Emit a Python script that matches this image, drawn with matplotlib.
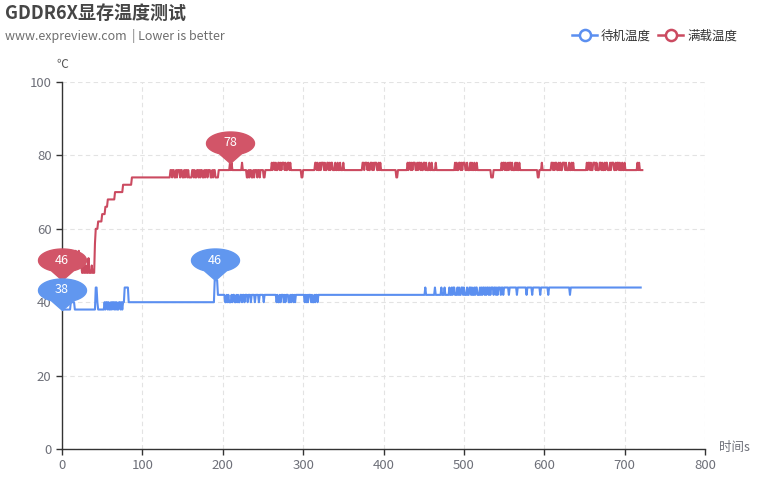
import numpy as np
import matplotlib
matplotlib.use("Agg")
import matplotlib.pyplot as plt
from matplotlib.path import Path
from matplotlib.lines import Line2D

plt.rcParams['font.family'] = ['Noto Sans CJK SC', 'DejaVu Sans']

title = "GDDR6X显存温度测试"
subtitle = "www.expreview.com  | Lower is better"
series_names = ["待机温度", "满载温度"]
x_ticks = [0, 100, 200, 300, 400, 500, 600, 700, 800]
y_ticks = [0, 20, 40, 60, 80, 100]

# Idle temperature, run-length encoded (value, seconds), one sample per second
idle_runs = [
    (38, 11), (40, 5), (38, 26), (44, 2), (40, 1), (38, 8),
    (40, 1), (38, 1), (40, 2), (38, 1), (40, 1), (38, 2), (40, 1), (38, 1), (40, 2), (38, 1),
    (40, 1), (38, 1), (40, 1), (38, 2), (40, 2), (38, 1), (40, 1), (38, 1),
    (40, 2), (44, 5), (40, 107), (46, 4), (42, 9),
    (40, 2), (42, 1), (40, 1), (42, 1), (40, 3), (42, 1), (40, 1), (42, 2), (40, 2), (42, 1),
    (40, 1), (42, 1), (40, 2), (42, 2), (40, 1), (42, 2), (40, 1), (42, 3), (40, 1), (42, 3),
    (40, 1), (42, 4), (40, 1), (42, 4), (40, 1), (42, 5), (40, 1), (42, 4),
    (42, 11),
    (40, 1), (42, 1), (40, 2), (42, 1), (40, 1), (42, 3), (40, 1), (42, 1), (40, 1), (42, 3),
    (40, 2), (42, 1), (40, 1), (42, 2), (40, 1), (42, 1), (40, 1), (42, 2),
    (42, 9),
    (40, 1), (42, 1), (40, 1), (42, 1), (40, 1), (42, 3), (40, 1), (42, 1), (40, 2), (42, 1),
    (40, 1), (42, 2), (40, 1),
    (42, 133),
    (44, 1), (42, 11), (44, 1), (42, 7), (44, 1), (42, 3), (44, 1), (42, 5),
    (44, 1), (42, 2), (44, 1), (42, 1), (44, 2), (42, 3), (44, 1), (42, 1), (44, 1), (42, 2),
    (44, 2), (42, 1), (44, 1), (42, 3), (44, 1), (42, 2), (44, 2), (42, 1), (44, 1), (42, 2),
    (44, 1), (42, 1), (44, 2), (42, 3), (44, 1), (42, 1),
    (44, 1), (42, 1), (44, 2), (42, 1), (44, 1), (42, 1), (44, 2), (42, 1), (44, 1), (42, 1),
    (44, 3), (42, 1), (44, 2), (42, 1), (44, 1), (42, 1), (44, 3), (42, 1), (44, 2), (42, 1),
    (44, 2),
    (44, 4), (42, 1), (44, 9), (42, 1), (44, 11), (42, 1), (44, 6), (42, 1), (44, 9), (42, 1),
    (44, 9), (42, 1), (44, 26), (42, 1), (44, 88),
]

# Full-load temperature: first 41 seconds listed directly, then run-length encoded
load_start = [46, 50, 52, 50, 54, 52, 50, 52, 54, 50, 52, 50, 54, 52, 50, 52, 50, 54, 52, 50,
              52, 54, 50, 52, 50, 48, 48, 52, 48, 48, 50, 48, 48, 52, 48, 48, 48, 50, 48, 48, 48]
load_runs = [
    (56, 1), (60, 3), (62, 5), (64, 4), (66, 3), (68, 9), (70, 10), (72, 11), (74, 48),
    (76, 2), (74, 1), (76, 2), (74, 2), (76, 1), (74, 1), (76, 3), (74, 1), (76, 2), (74, 2),
    (76, 1), (74, 1), (76, 2), (74, 1), (76, 1), (74, 4), (76, 2), (74, 1), (76, 1), (74, 2),
    (76, 2), (74, 1), (76, 1), (74, 1), (76, 2), (74, 2), (76, 1), (74, 1), (76, 2), (74, 1),
    (76, 3), (74, 2), (76, 1), (74, 1), (76, 2), (74, 4),
    (76, 14), (78, 1), (76, 1), (78, 1), (76, 12), (78, 1), (76, 5),
    (74, 2), (76, 1), (74, 1), (76, 2), (74, 2), (76, 1), (74, 1), (76, 3), (74, 1), (76, 2),
    (74, 1), (76, 4), (74, 2), (76, 3),
    (76, 5),
    (78, 1), (76, 1), (78, 2), (76, 1), (78, 1), (76, 2), (78, 2), (76, 1), (78, 1), (76, 1),
    (78, 3), (76, 1), (78, 1), (76, 2), (78, 2), (76, 1), (78, 1),
    (76, 13), (74, 2), (76, 15),
    (78, 2), (76, 1), (78, 1), (76, 2), (78, 1), (76, 1), (78, 3), (76, 1), (78, 1), (76, 2),
    (78, 2), (76, 1), (78, 1), (76, 1), (78, 2), (76, 3), (78, 1), (76, 2), (78, 1), (76, 2),
    (78, 1), (76, 3), (78, 1),
    (76, 23),
    (78, 2), (76, 1), (78, 3), (76, 1), (78, 1), (76, 2), (78, 2), (76, 1), (78, 1), (76, 1),
    (78, 3), (76, 2), (78, 1), (76, 1), (78, 1),
    (76, 19), (74, 2), (76, 12),
    (78, 1), (76, 1), (78, 2), (76, 1), (78, 1), (76, 1), (78, 3), (76, 2), (78, 1), (76, 1),
    (78, 2), (76, 1), (78, 1), (76, 2), (78, 2), (76, 1), (78, 1), (76, 3), (78, 1), (76, 2),
    (78, 1), (76, 4), (78, 1), (76, 1),
    (76, 22),
    (78, 1), (76, 1), (78, 1), (76, 2), (78, 2), (76, 1), (78, 1), (76, 1), (78, 3), (76, 2),
    (78, 1), (76, 3), (78, 1), (76, 1), (78, 1), (76, 2), (78, 1), (76, 2), (78, 1),
    (76, 17), (74, 3), (76, 10),
    (78, 1), (76, 1), (78, 2), (76, 1), (78, 1), (76, 2), (78, 1), (76, 1), (78, 2), (76, 1),
    (78, 1), (76, 3), (78, 1), (76, 1), (78, 1), (76, 2), (78, 1), (76, 1),
    (76, 21), (74, 2), (76, 3), (78, 1), (76, 11),
    (78, 2), (76, 1), (78, 1), (76, 1), (78, 2), (76, 2), (78, 1), (76, 1), (78, 1), (76, 2),
    (78, 3), (76, 1), (78, 1), (76, 3), (78, 1), (76, 2), (78, 1), (76, 1), (78, 1),
    (76, 16),
    (78, 1), (76, 1), (78, 2), (76, 1), (78, 1), (76, 2), (78, 3), (76, 1), (78, 1), (76, 3),
    (78, 2), (76, 1), (78, 1), (76, 2), (78, 1), (76, 1), (78, 2), (76, 3), (78, 1), (76, 1),
    (78, 3), (76, 2), (78, 1), (76, 1), (78, 2), (76, 1), (78, 1), (76, 2), (78, 1), (76, 2),
    (78, 1),
    (76, 15), (78, 1), (76, 1), (78, 1), (76, 4),
]

idle = np.repeat([v for v, n in idle_runs], [n for v, n in idle_runs]).astype(float)
load = np.concatenate([np.array(load_start, float),
                       np.repeat([v for v, n in load_runs], [n for v, n in load_runs]).astype(float)])
t_idle = np.arange(len(idle))
t_load = np.arange(len(load))

blue = '#5b8ff0'
red = '#cb4a60'
pin_blue = '#6197ef'
pin_red = '#d25568'

W, H = 765, 480
fig = plt.figure(figsize=(W / 100, H / 100), dpi=100)
ax = fig.add_axes([62 / W, 1 - 449 / H, (705 - 62) / W, (449 - 82) / H])

ax.plot(t_idle, idle, color=blue, lw=1.5, zorder=3)
ax.plot(t_load, load, color=red, lw=1.5, zorder=3)

ax.set_xlim(0, 800)
ax.set_ylim(0, 100)
ax.set_xticks(x_ticks)
ax.set_yticks(y_ticks)
ax.grid(True, color='#e3e3e3', linestyle=(0, (4, 3)), lw=0.8, zorder=0)
for s in ['top', 'right']:
    ax.spines[s].set_visible(False)
for s in ['left', 'bottom']:
    ax.spines[s].set_color('#333333')
    ax.spines[s].set_linewidth(1)
ax.tick_params(axis='both', colors='#333333', labelcolor='#6e7079', labelsize=9.5, length=4, width=1)

# pin markers (max / min)
theta = np.linspace(np.deg2rad(-62), np.deg2rad(242), 60)
a, b, c = 24.0, 11.5, 20.0
ex = a * np.cos(theta)
ey = c + b * np.sin(theta)
verts = [(0, 0)] + list(zip(ex, ey)) + [(0, 0)]
codes = [Path.MOVETO] + [Path.LINETO] * len(ex) + [Path.CLOSEPOLY]
pin_path = Path(verts, codes)
maxext = max(abs(np.array(verts)).max(), 1)
ms = 2 * maxext * 0.72


def pin(t, v, col):
    ax.plot([t], [v], marker=pin_path, ms=ms, color=col, mec=col, ls='none', zorder=5, clip_on=False)
    ax.annotate(f"{v:g}", xy=(t, v), xytext=(0, c * 0.72), textcoords='offset points',
                ha='center', va='center', color='white', fontsize=9, zorder=6)


# idle min/max
imin = int(np.argmin(idle)); imax = int(np.argmax(idle))
lmin = int(np.argmin(load)); lmax = int(np.argmax(load))
pin(t_load[lmin], load[lmin], pin_red)
pin(t_load[209], load[209], pin_red)
pin(t_idle[imin], idle[imin], pin_blue)
pin(t_idle[190], idle[190], pin_blue)

# axis names
fig.text(62 / W, 1 - 64 / H, "℃", ha='center', va='center', fontsize=8.5, color='#555555')
fig.text(719 / W, 1 - 448 / H, "时间s", ha='left', va='center', fontsize=9, color='#6e7079')

# title
fig.text(5 / W, 1 - 13 / H, title, ha='left', va='center', fontsize=13, fontweight='bold', color='#464646')
fig.text(5 / W, 1 - 36 / H, subtitle, ha='left', va='center', fontsize=9, color='#6e6e6e')

handles = [Line2D([], [], color=blue, lw=1.8, marker='o', ms=8, mfc='white', mew=1.8, mec=blue),
           Line2D([], [], color=red, lw=1.8, marker='o', ms=8, mfc='white', mew=1.8, mec=red)]
leg = fig.legend(handles, series_names, loc='center right', bbox_to_anchor=(742 / W, 1 - 36 / H),
                 ncol=2, frameon=False, fontsize=9, handlelength=2.0, columnspacing=0.6,
                 handletextpad=0.3, borderaxespad=0)
for txt in leg.get_texts():
    txt.set_color('#333333')

fig.savefig('out.png', dpi=100, facecolor='white')
